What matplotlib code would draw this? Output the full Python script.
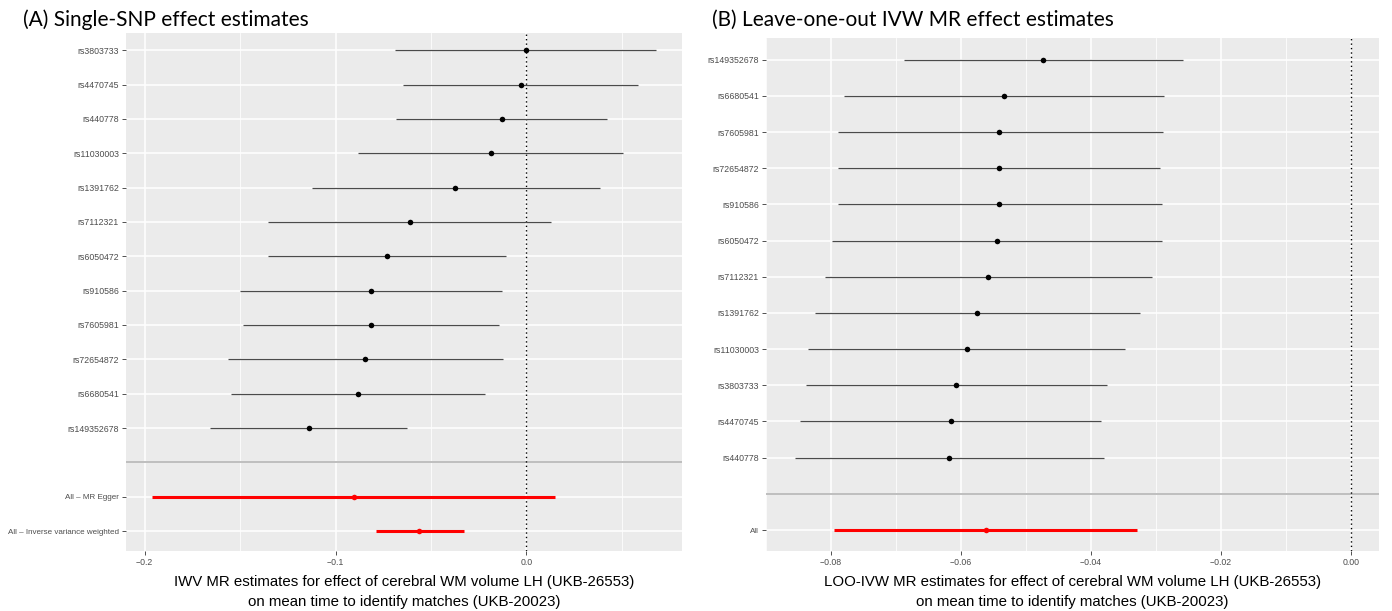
import matplotlib
matplotlib.use("Agg")
import matplotlib.pyplot as plt
import numpy as np

# ---------------- data ----------------
# Panel A: single-SNP estimates (top to bottom)
snps_a = ["rs3803733", "rs4470745", "rs440778", "rs11030003", "rs1391762", "rs7112321",
          "rs6050472", "rs910586", "rs7605981", "rs72654872", "rs6680541", "rs149352678"]
est_a = [0.0, -0.003, -0.0128, -0.0186, -0.0372, -0.0612, -0.073, -0.0814, -0.0814, -0.0844, -0.0884, -0.114]
lo_a = [-0.0686, -0.0647, -0.0681, -0.0881, -0.1123, -0.1353, -0.1353, -0.1502, -0.1486, -0.1565, -0.1547, -0.1656]
hi_a = [0.0681, 0.0588, 0.0423, 0.0509, 0.0384, 0.0128, -0.0105, -0.0126, -0.0144, -0.0121, -0.0219, -0.0626]
summ_a = ["All – MR Egger", "All – Inverse variance weighted"]
summ_est_a = [-0.0905, -0.056]
summ_lo_a = [-0.196, -0.0788]
summ_hi_a = [0.0153, -0.0328]

# Panel B: leave-one-out IVW estimates (top to bottom)
snps_b = ["rs149352678", "rs6680541", "rs7605981", "rs72654872", "rs910586", "rs6050472",
          "rs7112321", "rs1391762", "rs11030003", "rs3803733", "rs4470745", "rs440778"]
est_b = [-0.0474, -0.0534, -0.0541, -0.0541, -0.0541, -0.0545, -0.0559, -0.0575, -0.0591, -0.0608, -0.0616, -0.0618]
lo_b = [-0.0687, -0.078, -0.079, -0.0789, -0.079, -0.0799, -0.081, -0.0824, -0.0835, -0.0839, -0.0847, -0.0856]
hi_b = [-0.0259, -0.0287, -0.029, -0.0294, -0.0291, -0.0291, -0.0306, -0.0325, -0.0347, -0.0375, -0.0384, -0.038]
summ_b = ["All"]
summ_est_b = [-0.0562]
summ_lo_b = [-0.0795]
summ_hi_b = [-0.0329]

ticks_a = [-0.2, -0.1, 0.0]
ticklabels_a = ["\u22120.2", "\u22120.1", "0.0"]
minor_a = [-0.15, -0.05, 0.05]
ticks_b = [-0.08, -0.06, -0.04, -0.02, 0.0]
ticklabels_b = ["\u22120.08", "\u22120.06", "\u22120.04", "\u22120.02", "0.00"]
minor_b = [-0.09, -0.07, -0.05, -0.03, -0.01]

title_a = "(A) Single-SNP effect estimates"
title_b = "(B) Leave-one-out IVW MR effect estimates"
xlabel_a = "IWV MR estimates for effect of cerebral WM volume LH (UKB-26553)\non mean time to identify matches (UKB-20023)"
xlabel_b = "LOO-IVW MR estimates for effect of cerebral WM volume LH (UKB-26553)\non mean time to identify matches (UKB-20023)"

SANS = ["Liberation Sans", "DejaVu Sans"]
TITLEF = ["Lato", "DejaVu Sans"]

W, H = 1392, 611
fig = plt.figure(figsize=(W / 100, H / 100), dpi=100)
fig.patch.set_facecolor("white")

PANEL = "#EBEBEB"
TICKC = "#4D4D4D"


def panel(rect, snps, est, lo, hi, sname, sest, slo, shi, xlim, major, majlab, minor, ylim,
          title, xlabel, title_x):
    ax = fig.add_axes(rect)
    ax.set_facecolor(PANEL)
    n_s = len(sname)
    n = len(snps)
    sep = n_s + 1
    ypos_snp = [sep + n - i for i in range(n)]
    ypos_sum = [n_s - i for i in range(n_s)]
    ax.set_xlim(*xlim)
    ax.set_ylim(*ylim)
    ax.set_xticks(major)
    ax.set_xticklabels(majlab)
    ax.set_xticks(minor, minor=True)
    yt = ypos_snp + ypos_sum
    ax.set_yticks(yt)
    ax.set_yticklabels(list(snps) + list(sname))
    ax.grid(True, which="major", color="white", linewidth=1.1, zorder=0)
    ax.grid(True, which="minor", axis="x", color="white", linewidth=0.55, zorder=0)
    ax.set_axisbelow(True)
    for s in ax.spines.values():
        s.set_visible(False)
    ax.tick_params(axis="both", which="major", length=3, color="#333333", width=0.6,
                   labelsize=6.3, labelcolor=TICKC, pad=2)
    ax.tick_params(axis="both", which="minor", length=0)
    for lab in ax.get_yticklabels() + ax.get_xticklabels():
        lab.set_family(SANS)
    for lab in ax.get_yticklabels()[n:]:
        lab.set_fontsize(5.8)
    # separator
    ax.axhline(sep, color="#BEBEBE", linewidth=1.4, zorder=2)
    # zero line
    ax.axvline(0, color="black", linestyle=(0, (1, 2.2)), linewidth=1.0, zorder=2)
    # SNP rows
    ax.hlines(ypos_snp, lo, hi, color="#4a4a4a", linewidth=0.9, zorder=3)
    ax.scatter(est, ypos_snp, s=16, color="black", zorder=4, linewidths=0)
    # summary rows
    ax.hlines(ypos_sum, slo, shi, color="#FF0000", linewidth=2.2, zorder=3)
    ax.scatter(sest, ypos_sum, s=16, color="#FF0000", zorder=4, linewidths=0)
    ax.set_xlabel(xlabel, fontsize=10.8, family=SANS, color="black",
                  labelpad=6, linespacing=1.5)
    fig.text(title_x, 1 - 26 / H, title, fontsize=15, family=TITLEF,
             va="baseline", ha="left", color="black")
    return ax


# Panel A: pixel geometry
aL, aR, aT, aB = 126, 682, 33, 551
panel([aL / W, 1 - aB / H, (aR - aL) / W, (aB - aT) / H],
      snps_a, est_a, lo_a, hi_a, summ_a, summ_est_a, summ_lo_a, summ_hi_a,
      (-0.2098, 0.0816), ticks_a, ticklabels_a, minor_a, (0.42, 15.5),
      title_a, xlabel_a, 23 / W)

bL, bR, bT, bB = 766, 1379, 38, 551
panel([bL / W, 1 - bB / H, (bR - bL) / W, (bB - bT) / H],
      snps_b, est_b, lo_b, hi_b, summ_b, summ_est_b, summ_lo_b, summ_hi_b,
      (-0.0899, 0.0043), ticks_b, ticklabels_b, minor_b, (0.42, 14.6),
      title_b, xlabel_b, 712 / W)

fig.savefig("out.png", dpi=100, facecolor="white")
